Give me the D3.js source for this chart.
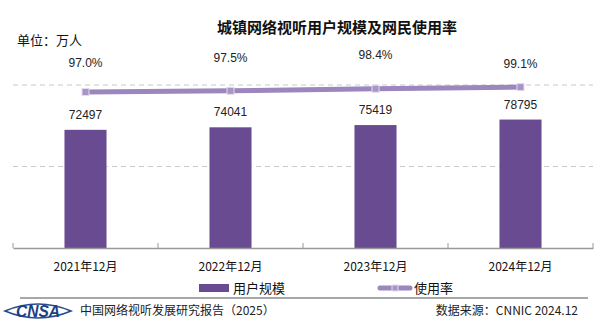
<!DOCTYPE html>
<html>
<head>
<meta charset="utf-8">
<script src="https://cdn.jsdelivr.net/npm/d3@7/dist/d3.min.js"></script>
<style>
  html, body { margin: 0; padding: 0; background: #fff; }
  svg { display: block; }
  text { font-family: "Liberation Sans", Arial, "Noto Sans CJK SC", sans-serif; }
  .cjk { font-family: "Noto Sans CJK SC", "Liberation Sans", sans-serif; }
</style>
</head>
<body>
<svg id="chart" width="600" height="332"></svg>
<script>
// Urban online audio-visual users (10k persons) and internet usage rate
const categories = ["2021年12月", "2022年12月", "2023年12月", "2024年12月"];
const users = [72497, 74041, 75419, 78795];
const rates = [97.0, 97.5, 98.4, 99.1];
const rateLabels = ["97.0%", "97.5%", "98.4%", "99.1%"];
const userTicks = [0, 50000, 100000];

// vertical nudge of each rate label above its point
const rateLabelDy = [-25, -29, -30, -19];

const W = 600, H = 332;
const margin = { left: 13, right: 7, top: 85, bottom: 84 };
const svg = d3.select("#chart");

const x = d3.scaleBand()
  .domain(categories)
  .range([margin.left, W - margin.right])
  .paddingInner(0.71)
  .paddingOuter(0.355);

const y = d3.scaleLinear().domain([0, 100000]).range([H - margin.bottom, margin.top]);
const yRate = d3.scaleLinear().domain([30, 100]).range([H - margin.bottom, margin.top]);

// title and unit
svg.append("text").attr("class", "cjk")
  .attr("x", 337).attr("y", 33)
  .attr("text-anchor", "middle")
  .attr("font-size", 15).attr("font-weight", "bold").attr("fill", "#111")
  .text("城镇网络视听用户规模及网民使用率");
svg.append("text").attr("class", "cjk")
  .attr("x", 17).attr("y", 45)
  .attr("font-size", 13).attr("fill", "#111")
  .text("单位：万人");

// dashed gridlines
svg.append("g").selectAll("line")
  .data(userTicks.filter(d => d > 0))
  .join("line")
  .attr("x1", margin.left).attr("x2", W - margin.right)
  .attr("y1", d => y(d)).attr("y2", d => y(d))
  .attr("stroke", "#c8c8c8").attr("stroke-width", 1)
  .attr("stroke-dasharray", "5,4");

// bars
svg.append("g").selectAll("rect")
  .data(users)
  .join("rect")
  .attr("x", (d, i) => x(categories[i]))
  .attr("width", x.bandwidth())
  .attr("y", d => y(d))
  .attr("height", d => y(0) - y(d))
  .attr("fill", "#694b92");

// bar value labels
svg.append("g").selectAll("text")
  .data(users)
  .join("text")
  .attr("x", (d, i) => x(categories[i]) + x.bandwidth() / 2)
  .attr("y", d => y(d) - 11)
  .attr("text-anchor", "middle")
  .attr("font-size", 12).attr("fill", "#222")
  .text(d => d);

// x axis
const xAxis = d3.axisBottom(x).tickSize(0).tickPadding(14);
const gx = svg.append("g")
  .attr("transform", `translate(0,${y(0)})`)
  .call(xAxis);
gx.select(".domain").attr("stroke", "#999").attr("stroke-width", 1.5);
gx.selectAll(".tick text")
  .attr("class", "cjk")
  .attr("font-size", 12).attr("fill", "#111");
// category boundary ticks
const bounds = d3.range(categories.length + 1).map(i => margin.left + i * x.step());
gx.append("g").selectAll("line")
  .data(bounds)
  .join("line")
  .attr("x1", d => d).attr("x2", d => d)
  .attr("y1", 0).attr("y2", -5)
  .attr("stroke", "#999").attr("stroke-width", 1);

// usage rate line
const cx = i => x(categories[i]) + x.bandwidth() / 2;
const line = d3.line()
  .x((d, i) => cx(i))
  .y(d => yRate(d));
svg.append("path")
  .datum(rates)
  .attr("d", line)
  .attr("fill", "none")
  .attr("stroke", "#9b86bd")
  .attr("stroke-width", 5);
svg.append("g").selectAll("rect")
  .data(rates)
  .join("rect")
  .attr("x", (d, i) => cx(i) - 3.5)
  .attr("y", d => yRate(d) - 3.5)
  .attr("width", 7).attr("height", 7)
  .attr("fill", "#a895c6")
  .attr("stroke", "#e2dcec").attr("stroke-width", 1);

svg.append("g").selectAll("text")
  .data(rates)
  .join("text")
  .attr("x", (d, i) => cx(i))
  .attr("y", (d, i) => yRate(d) + rateLabelDy[i])
  .attr("text-anchor", "middle")
  .attr("font-size", 12).attr("fill", "#222")
  .text((d, i) => rateLabels[i]);

// legend
const lg = svg.append("g");
lg.append("rect").attr("x", 199).attr("y", 284).attr("width", 30).attr("height", 8).attr("fill", "#694b92");
lg.append("text").attr("class", "cjk").attr("x", 233).attr("y", 293)
  .attr("font-size", 13).attr("fill", "#111").text("用户规模");
lg.append("line").attr("x1", 380).attr("x2", 410).attr("y1", 288).attr("y2", 288)
  .attr("stroke", "#9b86bd").attr("stroke-width", 5).attr("stroke-linecap", "round");
lg.append("rect").attr("x", 392).attr("y", 285).attr("width", 6).attr("height", 6)
  .attr("fill", "#a895c6").attr("stroke", "#e2dcec");
lg.append("text").attr("class", "cjk").attr("x", 414).attr("y", 293)
  .attr("font-size", 13).attr("fill", "#111").text("使用率");

// footer
svg.append("line").attr("x1", 20).attr("x2", 588).attr("y1", 298).attr("y2", 298)
  .attr("stroke", "#8a8a8a").attr("stroke-width", 1.5);

const logo = svg.append("g").attr("transform", "translate(38,311)");
logo.append("path")
  .attr("d", "M-33,0 Q0,-14 33,0 Q0,14 -33,0 Z")
  .attr("fill", "none").attr("stroke", "#2a4a8c").attr("stroke-width", 1.6);
logo.append("text")
  .attr("x", 0).attr("y", 5.5)
  .attr("text-anchor", "middle")
  .attr("font-size", 16).attr("font-weight", "bold")
  .attr("font-style", "italic")
  .attr("fill", "#213f86")
  .attr("textLength", 44).attr("lengthAdjust", "spacingAndGlyphs")
  .text("CNSA");

svg.append("text").attr("class", "cjk")
  .attr("x", 80).attr("y", 315)
  .attr("font-size", 12).attr("fill", "#222")
  .text("中国网络视听发展研究报告（2025）");
svg.append("text").attr("class", "cjk")
  .attr("x", 578).attr("y", 315)
  .attr("text-anchor", "end")
  .attr("font-size", 12).attr("fill", "#222")
  .text("数据来源：CNNIC  2024.12");
</script>
</body>
</html>
